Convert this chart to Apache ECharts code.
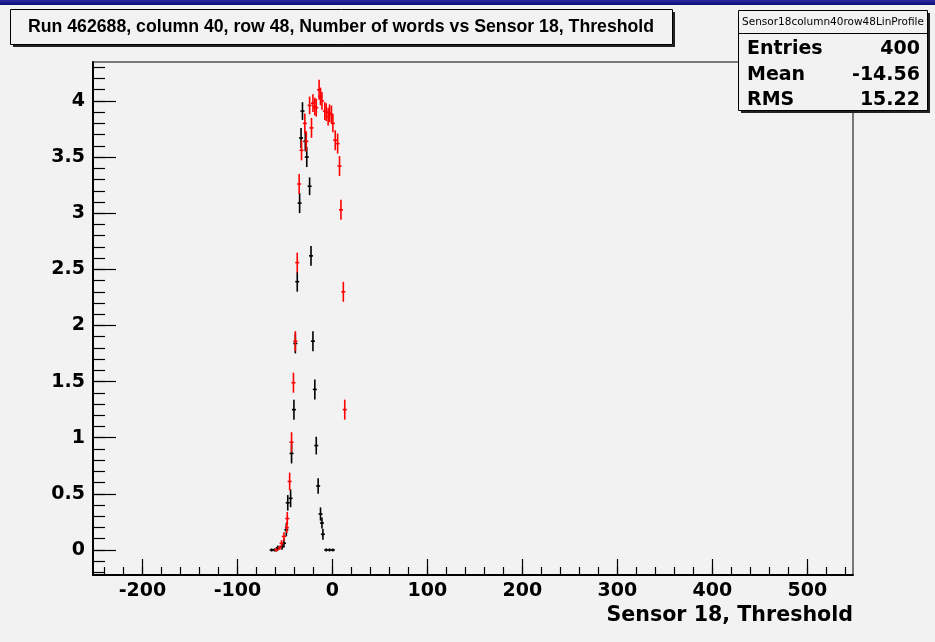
<!DOCTYPE html>
<html>
<head>
<meta charset="utf-8">
<script src="https://cdn.jsdelivr.net/npm/echarts@6/dist/echarts.min.js"></script>
<style>
html,body{margin:0;padding:0;background:#f2f2f2;}
#chart{width:935px;height:642px;}
</style>
</head>
<body>
<div id="chart"></div>
<script>
// ---- data ----
const blackX = [-64, -61, -59, -57.5, -53, -51, -48.5, -47, -44, -43, -40.5, -39, -37, -34.5, -33, -31.5, -28.5, -27, -24, -22.5, -20.5, -18.5, -17, -15, -12.5, -11, -10, -6.5, -3, 0.5];
const blackY = [0, 0, 0, 0.02, 0.03, 0.06, 0.18, 0.42, 0.46, 0.86, 1.25, 1.84, 2.39, 3.09, 3.67, 3.91, 3.64, 3.5, 3.24, 2.62, 1.86, 1.43, 0.93, 0.57, 0.32, 0.24, 0.14, 0, 0, 0];
const blackErr = [0.005, 0.005, 0.005, 0.01, 0.02, 0.03, 0.05, 0.06, 0.07, 0.08, 0.08, 0.08, 0.08, 0.08, 0.08, 0.07, 0.08, 0.08, 0.07, 0.08, 0.08, 0.08, 0.07, 0.06, 0.05, 0.04, 0.04, 0.005, 0.005, 0.005];

const redX = [-59, -55.5, -53.5, -51, -48, -47.5, -45, -43, -41, -39, -37, -35, -32.5, -29, -27.5, -24, -22, -20.5, -18.5, -17, -14, -12.5, -11, -8, -6.5, -4.5, -3, -1, 0.5, 3, 5.5, 7.5, 9, 11.5, 13];
const redY = [0, 0.02, 0.06, 0.12, 0.2, 0.28, 0.61, 0.96, 1.49, 1.86, 2.56, 3.26, 3.56, 3.8, 3.64, 3.96, 3.76, 3.98, 3.95, 3.94, 4.10, 4.04, 4.0, 3.91, 3.9, 3.86, 3.89, 3.88, 3.8, 3.65, 3.62, 3.42, 3.03, 2.3, 1.25];
const redErr = [0.005, 0.01, 0.02, 0.03, 0.04, 0.05, 0.07, 0.08, 0.08, 0.08, 0.08, 0.08, 0.08, 0.08, 0.08, 0.07, 0.08, 0.07, 0.07, 0.07, 0.08, 0.07, 0.07, 0.07, 0.07, 0.07, 0.07, 0.07, 0.07, 0.08, 0.08, 0.08, 0.08, 0.08, 0.08];

const xTickLabels = [-200, -100, 0, 100, 200, 300, 400, 500];
const yTickLabels = [0, 0.5, 1, 1.5, 2, 2.5, 3, 3.5, 4];

const titleText = 'Run 462688, column 40, row 48, Number of words vs Sensor 18, Threshold';
const xAxisTitle = 'Sensor 18, Threshold';
const statsName = 'Sensor18column40row48LinProfile';
const statsLabels = ['Entries', 'Mean', 'RMS'];
const statsValues = ['400', '-14.56', '15.22'];

// ---- axis ranges ----
const xMin = -252, xMax = 548;
const yMin = -0.223, yMax = 4.347;

const xMinorTicks = [];
for (let v = -240; v <= 540; v += 20) xMinorTicks.push(v);
const yMinorTicks = [];
for (let i = -2; i <= 43; i++) yMinorTicks.push(i / 10);

const FONT = 'DejaVu Sans';

function makeSeries(xs, ys, es, color) {
  return {
    type: 'custom',
    xAxisIndex: 0,
    yAxisIndex: 0,
    data: xs.map((x, i) => [x, ys[i], es[i]]),
    renderItem: function (params, api) {
      const x = api.value(0), y = api.value(1), e = api.value(2);
      const c = api.coord([x, y]);
      const lo = api.coord([x, y - e]);
      const hi = api.coord([x, y + e]);
      return {
        type: 'group',
        children: [
          { type: 'line', shape: { x1: c[0], y1: lo[1] + 1, x2: c[0], y2: hi[1] - 1 }, style: { stroke: color, lineWidth: 1.6 } },
          { type: 'line', shape: { x1: c[0] - 2, y1: c[1], x2: c[0] + 2, y2: c[1] }, style: { stroke: color, lineWidth: 1.6 } }
        ]
      };
    },
    z: 5
  };
}

const chart = echarts.init(document.getElementById('chart'), null, { renderer: 'canvas' });

const option = {
  backgroundColor: '#f2f2f2',
  animation: false,
  grid: {
    left: 93, top: 62, width: 760, height: 513,
    show: true, borderColor: '#000', borderWidth: 1, backgroundColor: 'transparent'
  },
  xAxis: [
    {
      type: 'value', min: xMin, max: xMax, position: 'bottom',
      axisLine: { show: true, onZero: false, lineStyle: { color: '#000', width: 2 } },
      axisTick: { show: true, inside: true, length: 16, customValues: xTickLabels, lineStyle: { color: '#000', width: 1.2 } },
      axisLabel: { show: true, customValues: xTickLabels, margin: 7, color: '#000', fontFamily: FONT, fontWeight: 'bold', fontSize: 19 },
      splitLine: { show: false }
    },
    {
      type: 'value', min: xMin, max: xMax, position: 'bottom', offset: 0,
      axisLine: { show: false, onZero: false },
      axisTick: { show: true, inside: true, length: 8, customValues: xMinorTicks, lineStyle: { color: '#000', width: 1.2 } },
      axisLabel: { show: false },
      splitLine: { show: false }
    }
  ],
  yAxis: [
    {
      type: 'value', min: yMin, max: yMax, position: 'left',
      axisLine: { show: true, onZero: false, lineStyle: { color: '#000', width: 2 } },
      axisTick: { show: true, inside: true, length: 23, customValues: yTickLabels, lineStyle: { color: '#000', width: 1.2 } },
      axisLabel: { show: true, customValues: yTickLabels, margin: 8, color: '#000', fontFamily: FONT, fontWeight: 'bold', fontSize: 19 },
      splitLine: { show: false }
    },
    {
      type: 'value', min: yMin, max: yMax, position: 'left', offset: 0,
      axisLine: { show: false, onZero: false },
      axisTick: { show: true, inside: true, length: 12, customValues: yMinorTicks, lineStyle: { color: '#000', width: 1.2 } },
      axisLabel: { show: false },
      splitLine: { show: false }
    }
  ],
  series: [
    makeSeries(blackX, blackY, blackErr, '#000000'),
    makeSeries(redX, redY, redErr, '#ff0000')
  ],
  graphic: [
    { type: 'rect', z: 100, shape: { x: 0, y: 0, width: 935, height: 5 },
      style: { fill: new echarts.graphic.LinearGradient(0, 0, 0, 1, [{ offset: 0, color: '#2a2aa0' }, { offset: 1, color: '#0c0c78' }]) } },
    // title box
    { type: 'rect', z: 100, shape: { x: 13, y: 12, width: 662, height: 35 }, style: { fill: '#222' } },
    { type: 'rect', z: 101, shape: { x: 10.5, y: 9.5, width: 662, height: 35 }, style: { fill: '#f2f2f2', stroke: '#000', lineWidth: 1 } },
    { type: 'text', z: 102, x: 341, y: 27, style: { text: titleText, fill: '#000', font: 'bold 17.7px "Liberation Sans"', textAlign: 'center', textVerticalAlign: 'middle' } },
    // stats box
    { type: 'rect', z: 100, shape: { x: 741, y: 13, width: 189, height: 100 }, style: { fill: '#222' } },
    { type: 'rect', z: 101, shape: { x: 738.5, y: 10.5, width: 189, height: 100 }, style: { fill: '#f2f2f2', stroke: '#000', lineWidth: 1 } },
    { type: 'line', z: 102, shape: { x1: 738.5, y1: 33.5, x2: 927.5, y2: 33.5 }, style: { stroke: '#000', lineWidth: 1 } },
    { type: 'text', z: 102, x: 833, y: 22, style: { text: statsName, fill: '#000', font: '10.5px "DejaVu Sans"', textAlign: 'center', textVerticalAlign: 'middle' } },
    { type: 'text', z: 102, x: 747, y: 49, style: { text: statsLabels[0], fill: '#000', font: 'bold 19px "DejaVu Sans"', textAlign: 'left', textVerticalAlign: 'middle' } },
    { type: 'text', z: 102, x: 920, y: 49, style: { text: statsValues[0], fill: '#000', font: 'bold 19px "DejaVu Sans"', textAlign: 'right', textVerticalAlign: 'middle' } },
    { type: 'text', z: 102, x: 747, y: 75, style: { text: statsLabels[1], fill: '#000', font: 'bold 19px "DejaVu Sans"', textAlign: 'left', textVerticalAlign: 'middle' } },
    { type: 'text', z: 102, x: 920, y: 75, style: { text: statsValues[1], fill: '#000', font: 'bold 19px "DejaVu Sans"', textAlign: 'right', textVerticalAlign: 'middle' } },
    { type: 'text', z: 102, x: 747, y: 100, style: { text: statsLabels[2], fill: '#000', font: 'bold 19px "DejaVu Sans"', textAlign: 'left', textVerticalAlign: 'middle' } },
    { type: 'text', z: 102, x: 920, y: 100, style: { text: statsValues[2], fill: '#000', font: 'bold 19px "DejaVu Sans"', textAlign: 'right', textVerticalAlign: 'middle' } },
    // x axis title
    { type: 'text', z: 102, x: 853, y: 616, style: { text: xAxisTitle, fill: '#000', font: 'bold 20.6px "DejaVu Sans"', textAlign: 'right', textVerticalAlign: 'middle' } }
  ]
};
chart.setOption(option);
</script>
</body>
</html>
